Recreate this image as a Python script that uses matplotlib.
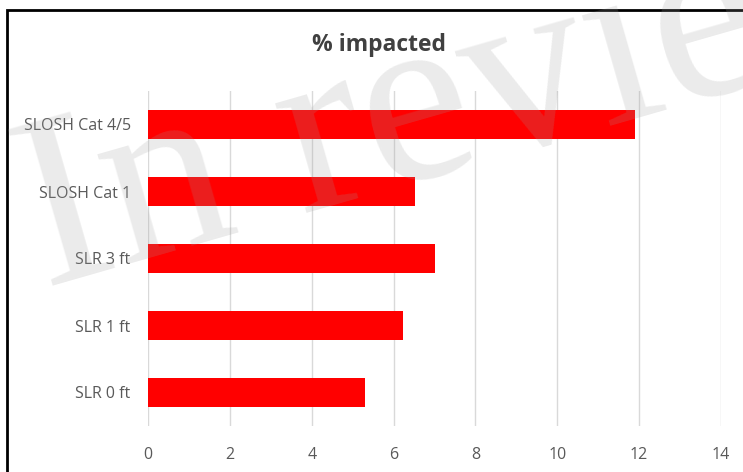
'''Horizontal bar chart: % impacted by scenario'''
import matplotlib
matplotlib.use("Agg")
from matplotlib import pyplot as plt
from matplotlib.patches import Rectangle

# data, bottom to top
scenarios = ["SLR 0 ft", "SLR 1 ft", "SLR 3 ft", "SLOSH Cat 1", "SLOSH Cat 4/5"]
pct_impacted = [5.3, 6.22, 7.01, 6.52, 11.9]
x_ticks = [0, 2, 4, 6, 8, 10, 12, 14]

W, H = 743, 472
fig = plt.figure(figsize=(W / 100, H / 100), dpi=100)

# chart frame (cropped at right and bottom)
fig.patches.append(Rectangle((7 / W, -0.1), 1.2, 1 - 10 / H + 0.1,
                             transform=fig.transFigure, fill=False,
                             edgecolor="black", linewidth=2))

ax = fig.add_axes([148 / W, 1 - 426 / H, (721 - 148) / W, (426 - 91) / H])
ypos = list(range(len(scenarios)))
ax.barh(ypos, pct_impacted, height=0.43, color="#ff0000", zorder=3)

ax.set_xlim(0, 14)
ax.set_ylim(-0.5, len(scenarios) - 0.5)
ax.set_xticks(x_ticks)
ax.set_xticklabels([str(t) for t in x_ticks])
ax.set_yticks(ypos)
ax.set_yticklabels(scenarios)
for s in ax.spines.values():
    s.set_visible(False)
ax.grid(True, axis="x", color="#d9d9d9", linewidth=1, zorder=0)
ax.tick_params(axis="both", length=0, colors="#595959", labelsize=11.5)
ax.tick_params(axis="x", pad=15)
ax.tick_params(axis="y", pad=12.5)
for lbl in ax.get_xticklabels() + ax.get_yticklabels():
    lbl.set_family("Open Sans")

fig.text(379 / W, 1 - 45 / H, "% impacted", ha="center", va="center",
         fontsize=16.5, fontweight="bold", color="#404040", family="Open Sans")

# watermark
fig.text(44 / W, 1 - 288 / H, "In review", ha="left", va="baseline",
         rotation=16, rotation_mode="anchor", fontsize=178,
         family="Liberation Serif", color=(0.62, 0.62, 0.62), alpha=0.2,
         zorder=10)

fig.savefig("out.png", dpi=100)
plt.close()
